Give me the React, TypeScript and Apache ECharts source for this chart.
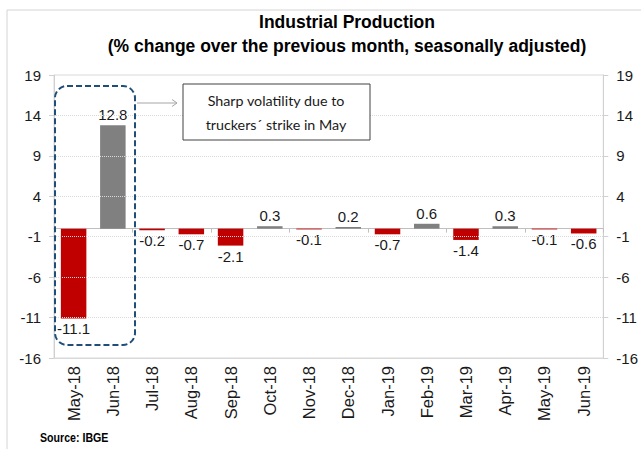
import React, { useEffect, useRef } from 'react';
import * as echarts from 'echarts';

const categories = ['May-18', 'Jun-18', 'Jul-18', 'Aug-18', 'Sep-18', 'Oct-18', 'Nov-18', 'Dec-18', 'Jan-19', 'Feb-19', 'Mar-19', 'Apr-19', 'May-19', 'Jun-19'];
const values = [-11.1, 12.8, -0.2, -0.7, -2.1, 0.3, -0.1, 0.2, -0.7, 0.6, -1.4, 0.3, -0.1, -0.6];
const yTickValues = [-16, -11, -6, -1, 4, 9, 14, 19];
const titleLines = ['Industrial Production', '(% change over the previous month, seasonally adjusted)'];
const noteLines = ['Sharp volatility due to', 'truckers\u00b4 strike in May'];
const sourceText = 'Source: IBGE';

const RED = '#C00000';
const GREY = '#808080';
const FONT = '"Liberation Sans", Arial, sans-serif';

export default function App() {
  const ref = useRef<HTMLDivElement>(null);
  useEffect(() => {
    const chart = echarts.init(ref.current!, null, { renderer: 'svg' });
    const yAxisBase = {
      type: 'value',
      min: yTickValues[0],
      max: yTickValues[yTickValues.length - 1],
      axisLine: { show: true, lineStyle: { color: '#d0d0d0', width: 1 } },
      axisTick: { show: true, length: 5, customValues: yTickValues, lineStyle: { color: '#d0d0d0' } },
      axisLabel: { customValues: yTickValues, fontSize: 15, color: '#1a1a1a', fontFamily: FONT, margin: 13 },
      splitLine: { show: false },
    };
    chart.setOption({
      animation: false,
      backgroundColor: '#ffffff',
      grid: { left: 54, right: 31, top: 75, bottom: 91, show: true, borderColor: '#d9d9d9', borderWidth: 1, containLabel: false },
      xAxis: [
        {
          type: 'category',
          data: categories,
          position: 'bottom',
          axisLine: { show: true, onZero: false, lineStyle: { color: '#d9d9d9' } },
          axisTick: { show: false },
          axisLabel: { rotate: 90, fontSize: 16.5, color: '#1a1a1a', fontFamily: FONT, margin: 8, interval: 0 },
        },
        {
          type: 'category',
          data: categories,
          position: 'bottom',
          axisLine: { show: true, onZero: true, lineStyle: { color: '#bfbfbf' } },
          axisTick: { show: true, length: 4, inside: false, lineStyle: { color: '#bfbfbf' } },
          axisLabel: { show: false },
        },
      ],
      yAxis: [
        { ...yAxisBase, position: 'left' },
        { ...yAxisBase, position: 'right' },
      ],
      series: [
        {
          type: 'bar',
          xAxisIndex: 0,
          yAxisIndex: 0,
          barWidth: '65%',
          data: values.map((v) => ({
            value: v,
            itemStyle: { color: v >= 0 ? GREY : RED },
            label: { position: v >= 0 ? 'top' : 'bottom' },
          })),
          label: {
            show: true,
            fontSize: 15,
            color: '#1a1a1a',
            fontFamily: FONT,
            distance: 3,
            formatter: (p: any) => String(p.value),
          },
          markLine: {
            silent: true,
            symbol: 'none',
            label: { show: false },
            lineStyle: { color: '#d9d9d9', type: 'dotted', width: 1 },
            data: yTickValues.slice(1, -1).filter((v) => v !== 0).map((v) => ({ yAxis: v })),
          },
        },
      ],
      graphic: [
        { type: 'rect', shape: { x: 7, y: 10, width: 700, height: 600 }, style: { fill: 'none', stroke: '#d4d4d4', lineWidth: 1 }, z: 0, silent: true },
        { type: 'text', x: 347, y: 22, style: { text: titleLines[0], fontSize: 17.5, fontWeight: 'bold', fontFamily: FONT, fill: '#000', align: 'center', verticalAlign: 'middle' }, z: 101 },
        { type: 'text', x: 347, y: 46, style: { text: titleLines[1], fontSize: 17.5, fontWeight: 'bold', fontFamily: FONT, fill: '#000', align: 'center', verticalAlign: 'middle' }, z: 101 },
        { type: 'rect', shape: { x: 55, y: 86, width: 80, height: 259, r: 12 }, style: { fill: 'none', stroke: '#1F4E79', lineWidth: 2, lineDash: [6, 3] }, z: 100 },
        { type: 'line', shape: { x1: 137, y1: 103, x2: 177, y2: 103 }, style: { stroke: '#a6a6a6', lineWidth: 1 }, z: 100 },
        { type: 'polyline', shape: { points: [[172, 99.5], [177, 103], [172, 106.5]] }, style: { stroke: '#a6a6a6', fill: 'none', lineWidth: 1 }, z: 100 },
        { type: 'rect', shape: { x: 183, y: 84, width: 187, height: 56 }, style: { fill: '#fff', stroke: '#404040', lineWidth: 1 }, z: 100 },
        { type: 'text', x: 276, y: 112, style: { text: noteLines.join('\n'), fontSize: 14.3, lineHeight: 24, fontFamily: 'Lato, "Liberation Sans", sans-serif', fill: '#1a1a1a', align: 'center', verticalAlign: 'middle' }, z: 101 },
        { type: 'text', x: 40, y: 437, scaleX: 0.85, style: { text: sourceText, fontSize: 12.5, fontWeight: 'bold', fontFamily: FONT, fill: '#000', verticalAlign: 'middle' }, z: 101 },
      ],
    });
    return () => chart.dispose();
  }, []);
  return <div ref={ref} style={{ position: 'fixed', left: 0, top: 0, width: 641, height: 449 }} />;
}
